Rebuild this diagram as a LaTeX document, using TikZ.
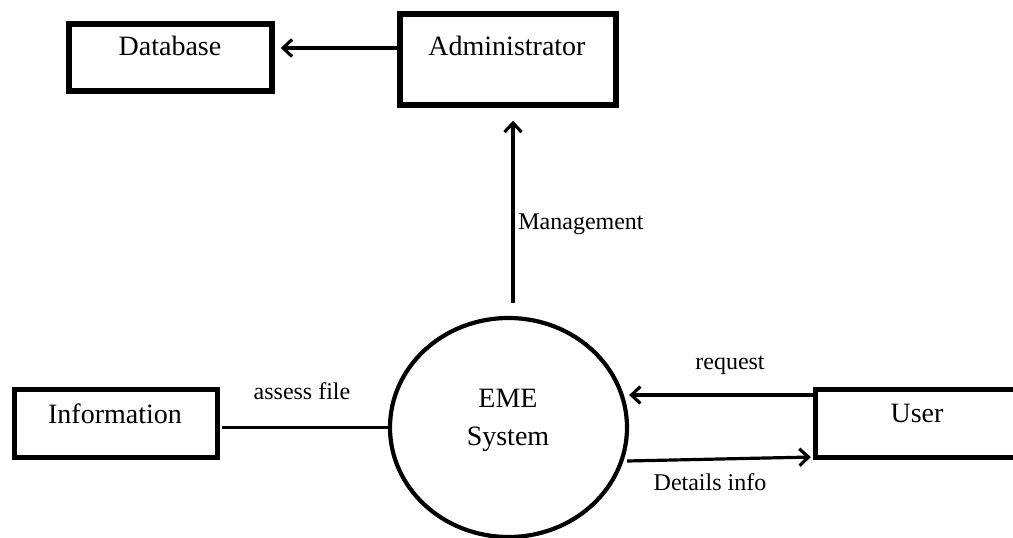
\documentclass[tikz,border=0pt]{standalone}
\usepackage{fontspec}
\setmainfont{Liberation Serif}
\usetikzlibrary{arrows.meta,shapes.geometric}

\tikzset{
  entity/.style={draw, line width=5.5pt, rectangle, inner sep=0pt},
  process/.style={draw, line width=4.2pt, ellipse, inner sep=0pt,
    minimum width=237pt, minimum height=219pt},
  title/.style={anchor=base, inner sep=0pt, font=\fontsize{28}{34}\selectfont},
  flowlabel/.style={anchor=base, inner sep=0pt, font=\fontsize{24}{28}\selectfont},
  flow/.style={line width=3.2pt, -{Straight Barb[length=9pt,width=17pt]}},
  link/.style={line width=3.4pt}
}

\begin{document}
\begin{tikzpicture}[x=1pt, y=-1pt]
  \useasboundingbox (0,0) rectangle (1013,538);
  \fill[white] (0,0) rectangle (1013,538);
  \clip (0,0) rectangle (1013,538);

  % external entities
  \node[entity, minimum width=203pt, minimum height=67pt] (db)   at (170.5,57.5) {};
  \node[entity, minimum width=216pt, minimum height=91pt] (adm)  at (508,59.5) {};
  \node[entity, minimum width=203pt, minimum height=68pt] (info) at (116,423.5) {};
  \node[entity, minimum width=209pt, minimum height=68pt] (user) at (920,423.5) {};

  % central process
  \node[process] (sys) at (508.5,427.5) {};

  % entity and process names
  \node[title] (dbt)   at (170,55)  {Database};
  \node[title] (admt)  at (507,55)  {Administrator};
  \node[title] (infot) at (115,423) {Information};
  \node[title] (usert) at (917,422) {User};
  \node[title] (syst1) at (508,407) {EME};
  \node[title] (syst2) at (508,445) {System};

  % data flows
  \draw[flow, shorten >=6pt]
    ([yshift=11.5pt]adm.west) -- ([yshift=11.5pt]adm.west -| db.east);
  \draw[flow, shorten <=13pt, shorten >=13pt]
    ([xshift=4.5pt]sys.north) -- ([xshift=4.5pt]sys.north |- adm.south);
  \draw[link] ([xshift=2pt]info.east |- sys.west) -- (sys.west);
  \draw[flow] ([yshift=28.5pt]user.west) -- ([yshift=28.5pt]user.west -| sys.east);
  \draw[flow, shorten >=2pt] ([yshift=-33.5pt,xshift=-2pt]sys.east) -- ([yshift=-33.5pt]user.west);

  % flow labels
  \node[flowlabel] (lman) at (581,229) {Management};
  \node[flowlabel] (lass) at (302,399) {assess file};
  \node[flowlabel] (lreq) at (730,369) {request};
  \node[flowlabel] (ldet) at (710,490) {Details info};
\end{tikzpicture}
\end{document}
